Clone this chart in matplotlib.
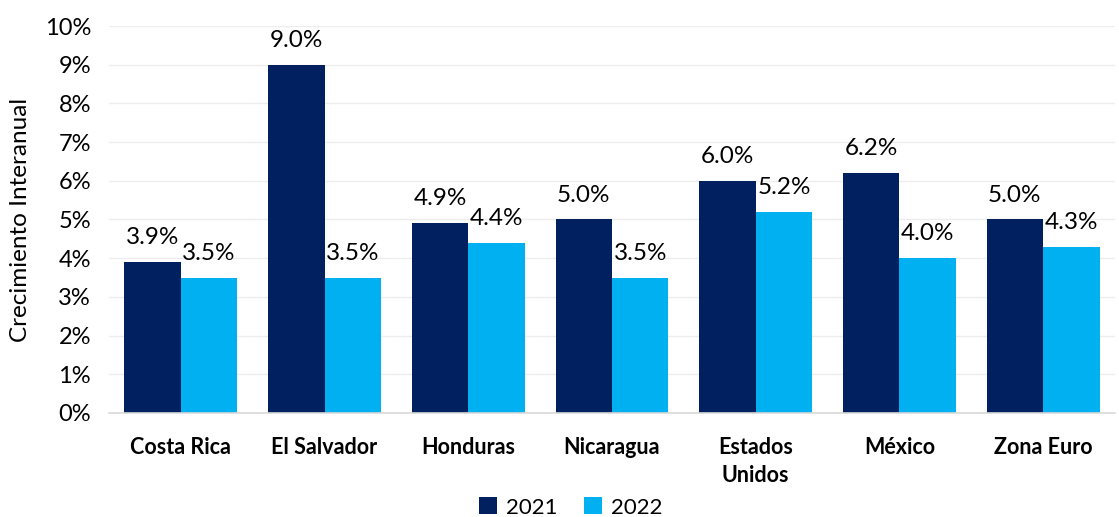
import numpy as np
import matplotlib
matplotlib.use('Agg')
import matplotlib.pyplot as plt
from matplotlib.ticker import PercentFormatter

categories = ['Costa Rica', 'El Salvador', 'Honduras', 'Nicaragua', 'Estados\nUnidos', 'México', 'Zona Euro']
vals_2021 = [3.9, 9.0, 4.9, 5.0, 6.0, 6.2, 5.0]
vals_2022 = [3.5, 3.5, 4.4, 3.5, 5.2, 4.0, 4.3]
series_names = ['2021', '2022']

plt.rcParams['font.family'] = ['Lato', 'DejaVu Sans']

fig = plt.figure(figsize=(11.19, 5.17), dpi=100)
ax = fig.add_axes([0.0974, 0.2012, 0.899, 0.7485])

x = np.arange(len(categories))
w = 0.393
b1 = ax.bar(x - w / 2, vals_2021, w, color='#002060', label=series_names[0])
b2 = ax.bar(x + w / 2, vals_2022, w, color='#00B0F0', label=series_names[1])

for bars in (b1, b2):
    ax.bar_label(bars, labels=[f'{v:.1f}%' for v in bars.datavalues],
                 padding=10, fontsize=17.5, color='#000000')

ax.set_xlim(-0.5, len(categories) - 0.5)
ax.set_ylim(0, 10)
ax.set_yticks(np.arange(0, 11, 1))
ax.yaxis.set_major_formatter(PercentFormatter(decimals=0))
ax.grid(axis='y', color='#EDEDED', linewidth=1)
ax.set_axisbelow(True)

for s in ['top', 'right', 'left']:
    ax.spines[s].set_visible(False)
ax.spines['bottom'].set_color('#D9D9D9')
ax.spines['bottom'].set_linewidth(1.2)

ax.set_xticks(x)
ax.set_xticklabels(categories, fontsize=15.5, fontweight='bold', va='top', linespacing=1.45)
ax.tick_params(axis='x', length=0, pad=17)
ax.tick_params(axis='y', length=0, labelsize=17, pad=13)
ax.set_ylabel('Crecimiento Interanual', fontsize=17.5, labelpad=10)

fig.legend(handles=[b1, b2], labels=series_names, loc='lower center',
           bbox_to_anchor=(0.51, -0.04), ncol=2, frameon=False,
           fontsize=16, handlelength=0.8, handleheight=0.8, columnspacing=1.2,
           handletextpad=0.4)

fig.savefig('out.png', dpi=100)
